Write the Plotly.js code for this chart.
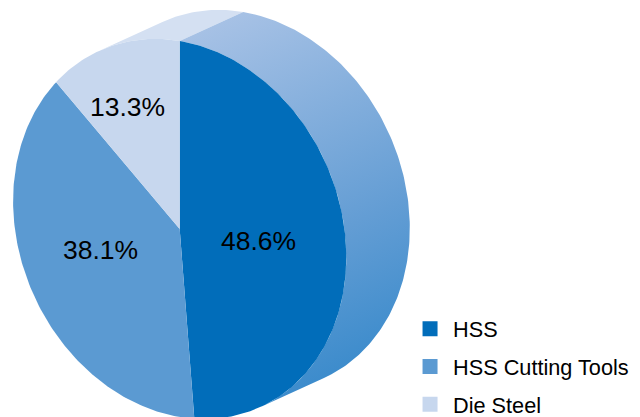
<!DOCTYPE html>
<html>
<head>
<meta charset="utf-8">
<script src="https://cdn.plot.ly/plotly-3.0.1.min.js"></script>
<style>html,body{margin:0;padding:0;background:#fff}#chart{width:640px;height:417px}</style>
</head>
<body>
<div id="chart"></div>
<script>
// Market shares, percent
const categories = ['HSS', 'HSS Cutting Tools', 'Die Steel'];
const shares = [48.6, 38.1, 13.3];
const faceColors = ['#016dba', '#5b9ad2', '#c7d7ee'];
const sideColorLight = '#d4e0f2';
const labelX = [258, 100, 127];
const labelY = [241, 250, 107];

// Oblique disc: a sheared ellipse pushed back along an extrusion vector
const center = [179.7, 229];
const axisRight = [166.6, 28];
const axisUp = [0, -188];
const depth = [63.5, -29];
const rimStart = -29;   // degrees where the disc silhouette meets the side wall
const rimEnd = 151;

function rimPoint(deg, offset) {
  const t = deg * Math.PI / 180, s = Math.sin(t), c = Math.cos(t);
  const o = offset || [0, 0];
  return [center[0] + axisRight[0] * s + axisUp[0] * c + o[0],
          center[1] + axisRight[1] * s + axisUp[1] * c + o[1]];
}
function arc(from, to, offset) {
  const n = Math.max(2, Math.ceil(Math.abs(to - from)));
  const pts = [];
  for (let i = 0; i <= n; i++) pts.push(rimPoint(from + (to - from) * i / n, offset));
  return pts;
}
function area(points, color, extra) {
  return Object.assign({
    type: 'scatter', mode: 'lines', x: points.map(p => p[0]), y: points.map(p => p[1]),
    fill: 'toself', fillcolor: color, line: {width: 0}, showlegend: false, hoverinfo: 'skip'
  }, extra || {});
}

const traces = [];

// Side wall behind the die steel slice and behind the HSS slice
traces.push(area(arc(rimStart, 0, depth).concat(arc(0, rimStart)), sideColorLight));
traces.push(area(arc(0, rimEnd, depth).concat(arc(rimEnd, 0)), '#6ea0d6', {
  fillgradient: {
    type: 'vertical', start: 12, stop: 378,
    colorscale: [[0, '#a6c1e5'], [0.65, '#639dd4'], [1, '#3d8ccc']]
  }
}));

// Front face slices, clockwise from twelve o'clock
let running = 0;
shares.forEach((v, i) => {
  const from = running * 3.6, to = (running + v) * 3.6;
  traces.push(area([center].concat(arc(from, to)).concat([center]), faceColors[i]));
  running += v;
});

// Legend entries
categories.forEach((name, i) => traces.push({
  type: 'scatter', mode: 'markers', x: [null], y: [null], name: name, legendgroup: name,
  marker: {symbol: 'square', size: 15, color: faceColors[i]}, hoverinfo: 'skip'
}));

const layout = {
  width: 640, height: 417,
  margin: {l: 0, r: 0, t: 0, b: 0, pad: 0, autoexpand: false},
  paper_bgcolor: '#fff', plot_bgcolor: '#fff',
  hovermode: false,
  xaxis: {range: [0, 640], visible: false, fixedrange: true},
  yaxis: {range: [417, 0], visible: false, fixedrange: true},
  font: {family: '"Liberation Sans", Arial, sans-serif', color: '#000'},
  legend: {
    x: 0.636, xanchor: 'left', y: 0.261, yanchor: 'top',
    font: {size: 21.7, color: '#000'}, bgcolor: 'rgba(0,0,0,0)',
    itemwidth: 36, tracegroupgap: 6.5, itemclick: false, itemdoubleclick: false
  },
  annotations: categories.map((c, i) => ({
    x: labelX[i], y: labelY[i], xref: 'x', yref: 'y', showarrow: false,
    text: shares[i].toFixed(1) + '%', font: {size: 26.5, color: '#000'}
  }))
};

const gd = document.getElementById('chart');

// Tilt the side wall's gradient so it runs across the extrusion direction
function tiltGradient() {
  gd.querySelectorAll('linearGradient').forEach(g => {
    g.setAttribute('gradientUnits', 'userSpaceOnUse');
    g.setAttribute('x1', 243); g.setAttribute('y1', 12);
    g.setAttribute('x2', 396); g.setAttribute('y2', 345);
  });
}
Plotly.newPlot(gd, traces, layout, {displayModeBar: false, staticPlot: true}).then(tiltGradient);
</script>
</body>
</html>
